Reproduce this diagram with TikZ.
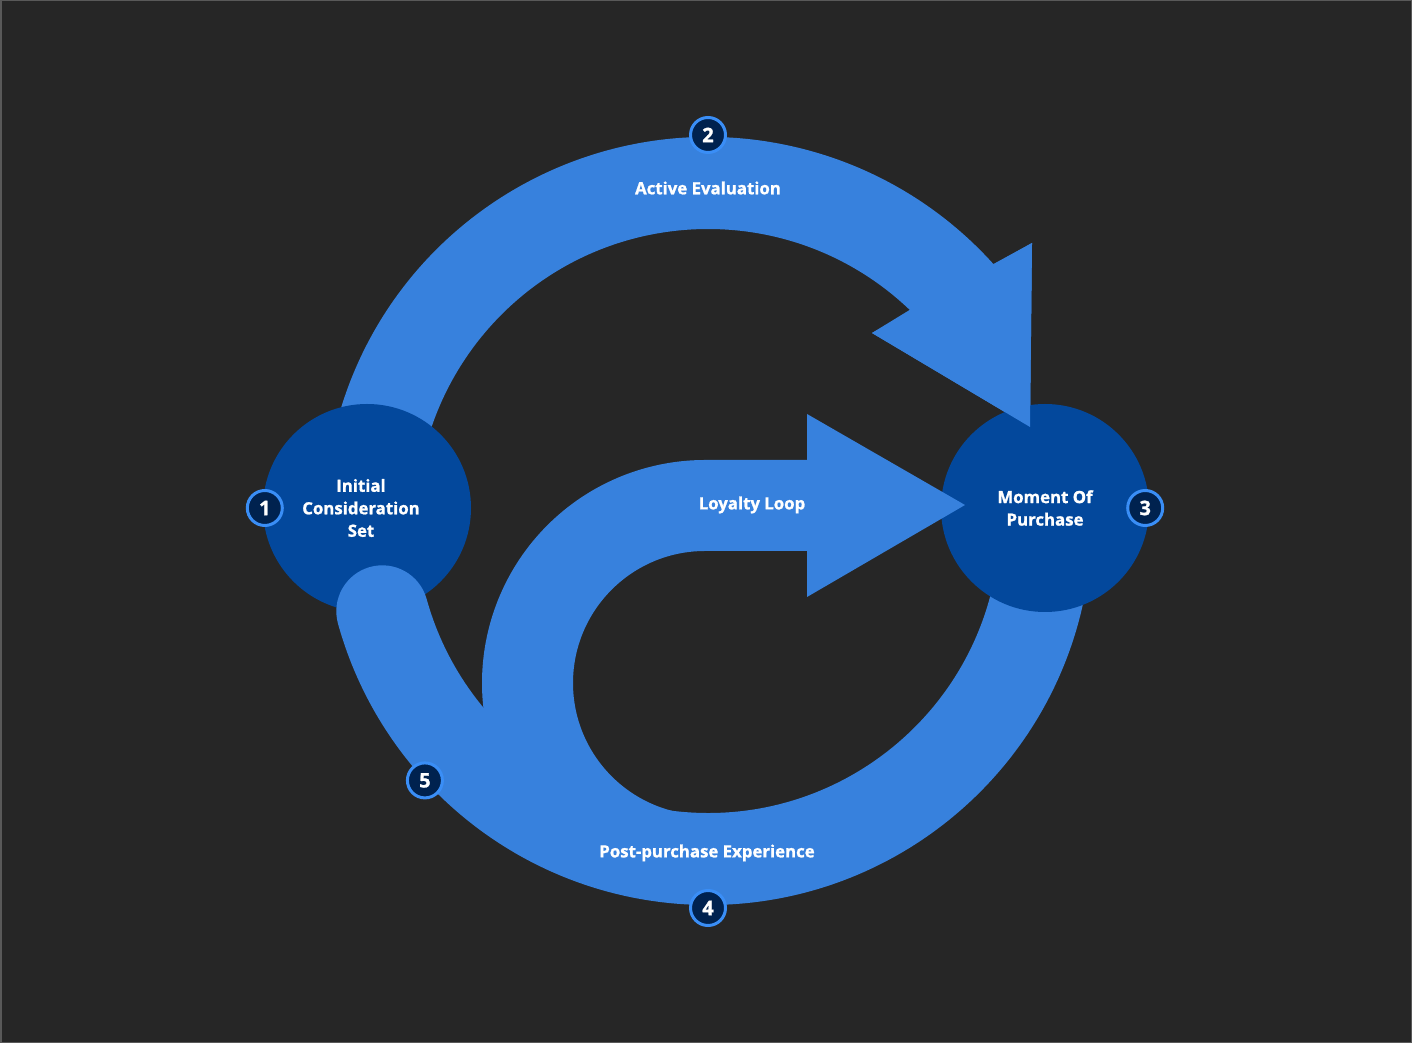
\documentclass[tikz,border=0pt]{standalone}
\usepackage{fontspec}
\setmainfont{Open Sans}[BoldFeatures={FakeBold=1.2}]
\usetikzlibrary{positioning, calc}
\definecolor{bgdark}{HTML}{262626}
\definecolor{bandblue}{HTML}{3781DD}
\definecolor{stageblue}{HTML}{03489C}
\definecolor{badgenavy}{HTML}{00224F}
\definecolor{badgeline}{HTML}{3A8EF6}
\tikzset{
  journey/.style={
	x=1pt, y=1pt, % one unit is one pixel of the reference
	every node/.style={text=white, font=\bfseries\fontsize{16.8}{22.5}\selectfont},
  },
  bandfill/.style={fill=bandblue, draw=none}, % the light blue arcs and arrows
  stagecircle/.style={circle, fill=stageblue, minimum size=208pt, inner sep=0pt}, % the two big stages
  stagetext/.style={align=center}, % text inside a stage
  badge/.style={circle, fill=badgenavy, draw=badgeline, line width=3pt, minimum size=35pt, inner sep=0pt, font=\bfseries\fontsize{20}{20}\selectfont}, % numbered dots
}

\begin{document}
\begin{tikzpicture}[journey]
\fill[bgdark] (0,0) rectangle (1412,1043);
\draw[gray!70!black, line width=1.5pt] (0.75,0.75) rectangle (1411.25,1042.25);
\coordinate (ring) at (708,522);
\coordinate (loop) at (705,360);

% active evaluation, under the first stage
\fill[bandfill] ($(ring)+(165:384)$) arc[start angle=165, end angle=42, radius=384]
	-- (1032,800) -- (1030,616) -- (872,710)
	-- ($(ring)+(46.3:292)$) arc[start angle=46.3, end angle=165, radius=292] -- cycle;

\node[stagecircle] (initial) at (367,535) {};
\node[stagetext, xshift=-6pt] (initialtext) at (initial) {Initial\\Consideration\\Set};

% post-purchase experience
\draw[bandblue, line width=92pt, line cap=round] ($(ring)+(-5:338)$) arc[start angle=-5, end angle=-164.5, radius=338];

\node[stagecircle] (purchase) at (1045,535) {};
\node[stagetext] (purchasetext) at (purchase) {Moment Of\\Purchase};

% arrow head again, over the second stage
\fill[bandfill] (1032,800) -- (1030,616) -- (872,710) -- cycle;

% loyalty loop
\fill[bandfill] ($(loop)+(200:223)$) arc[start angle=200, end angle=90, radius=223]
	-- (807,583) -- (807,629) -- (965,538) -- (807,446) -- (807,492)
	-- (705,492) arc[start angle=90, end angle=270, radius=132] -- (705,183) -- cycle;

\node (evaluation) at (708,855) {Active Evaluation};
\node (loyalty) at (752,538) {Loyalty Loop};
\node (postpurchase) at (707,190) {Post-purchase Experience};

\node[badge, xshift=2pt] (b1) at (initial.west) {1};
\node[badge] (b2) at ($(ring)+(90:386)$) {2};
\node[badge, xshift=-4pt] (b3) at (purchase.east) {3};
\node[badge] (b4) at ($(ring)+(-90:387)$) {4};
\node[badge] (b5) at ($(ring)+(222.5:384)$) {5};
\end{tikzpicture}
\end{document}
